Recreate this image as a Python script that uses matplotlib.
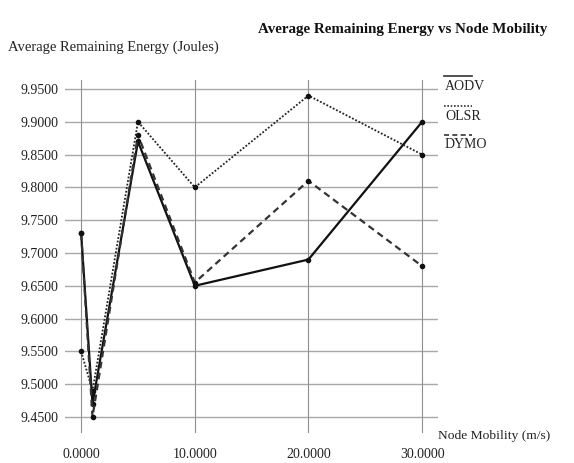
import matplotlib
matplotlib.use("Agg")
import matplotlib.pyplot as plt
from matplotlib.lines import Line2D

mobility = [0, 1, 5, 10, 20, 30]
aodv = [9.73, 9.47, 9.87, 9.65, 9.69, 9.90]
olsr = [9.55, 9.49, 9.90, 9.80, 9.94, 9.85]
dymo = [9.73, 9.45, 9.88, 9.655, 9.81, 9.68]
series_names = ["AODV", "OLSR", "DYMO"]
xticks = [0, 10, 20, 30]
yticks = [9.45, 9.50, 9.55, 9.60, 9.65, 9.70, 9.75, 9.80, 9.85, 9.90, 9.95]

plt.rcParams['font.family'] = ['Liberation Serif', 'DejaVu Serif']

W, H = 574, 463
fig = plt.figure(figsize=(W/100, H/100), dpi=100)
ax = fig.add_axes([65/W, 1-433/H, (438-65)/W, (433-80)/H])

ax.set_xlim(-1.42, 31.4)
ax.set_ylim(9.4256, 9.9637)

for s in ax.spines.values():
    s.set_visible(False)

for y in yticks:
    ax.axhline(y, color='#a8a8a8', lw=1.0, zorder=0)
for x in xticks:
    ax.axvline(x, color='#909090', lw=0.8, zorder=0)

styles = [dict(ls='-', lw=1.6, color='#111111'),
          dict(ls=(0, (1, 1)), lw=1.3, color='#222222'),
          dict(ls=(0, (3, 2)), lw=1.6, color='#333333')]
for vals, st in zip([aodv, olsr, dymo], styles):
    ax.plot(mobility, vals, marker='o', ms=3, mfc='#111111', mec='#111111', **st)

ax.set_xticks(xticks)
ax.set_xticklabels([f"{v:.4f}" for v in xticks])
ax.set_yticks(yticks)
ax.set_yticklabels([f"{v:.4f}" for v in yticks])
ax.tick_params(length=0, labelsize=10, colors='#222222')
ax.tick_params(axis='x', pad=11)
ax.tick_params(axis='y', pad=5)

fig.text(258/W, 1-30/H, "Average Remaining Energy vs Node Mobility", fontsize=10.8,
         fontweight='bold', va='center', ha='left', color='#111111')
fig.text(8/W, 1-47/H, "Average Remaining Energy (Joules)", fontsize=10.5,
         va='center', ha='left', color='#222222')
fig.text(438/W, 1-436/H, "Node Mobility (m/s)", fontsize=9.7,
         va='center', ha='left', color='#222222')

# legend
text_y = [87, 117, 145]
line_y = [76, 106, 135]
for name, st, ty, ly in zip(series_names, styles, text_y, line_y):
    fig.text(445/W, 1-ty/H, name, fontsize=10, va='center', ha='left', color='#222222')
    fig.add_artist(Line2D([444/W, 472/W], [1-ly/H, 1-ly/H], transform=fig.transFigure,
                          ls=st['ls'], lw=1.2, color='#333333'))

fig.savefig("out.png", dpi=100)
